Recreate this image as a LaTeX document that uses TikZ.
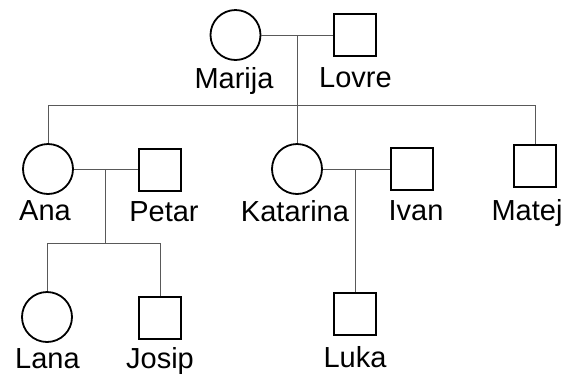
\documentclass[tikz,border=0pt]{standalone}
\usepackage{fontspec}
\setmainfont{Liberation Sans}
\begin{document}
\begin{tikzpicture}[x=1pt,y=-1pt,
  female/.style={draw,circle,line width=1.8pt,minimum size=50pt,inner sep=0pt},
  male/.style={draw,rectangle,line width=1.8pt,minimum size=42pt,inner sep=0pt},
  lbl/.style={anchor=base,inner sep=0pt,font=\fontsize{29}{34}\selectfont},
  link/.style={line width=0.9pt,draw=black!65}]
\useasboundingbox (0,0) rectangle (576,376);
% row 1
\node[female] (marija) at (235.5,35) {};
\node[male] (lovre) at (355,35) {};
% row 2
\node[female] (ana) at (48,169) {};
\node[male] (petar) at (160,170) {};
\node[female] (katarina) at (297,169) {};
\node[male] (ivan) at (412,169) {};
\node[male] (matej) at (535,166) {};
% row 3
\node[female] (lana) at (47,317) {};
\node[male] (josip) at (160,318) {};
\node[male] (luka) at (355,314) {};
% labels
\node[lbl] (tmarija) at (234,88) {Marija};
\node[lbl] (tlovre) at (355.5,87) {Lovre};
\node[lbl] (tana) at (45,220) {Ana};
\node[lbl] (tpetar) at (164,221) {Petar};
\node[lbl] (tkatarina) at (295,221) {Katarina};
\node[lbl] (tivan) at (416,220) {Ivan};
\node[lbl] (tmatej) at (527,220) {Matej};
\node[lbl] (tlana) at (47.5,368) {Lana};
\node[lbl] (tjosip) at (160,368) {Josip};
\node[lbl] (tluka) at (355,367) {Luka};
% junctions
\coordinate (m1) at (297,35);
\coordinate (s1) at (297,105);
\coordinate (m2) at (105,169);
\coordinate (s2) at (105,243);
\coordinate (m3) at (355,169);
% connectors
\draw[link] (marija.east) -- (lovre.west);
\draw[link] (m1) -- (s1);
\draw[link] (ana.north) -- (ana.north |- s1) -- (matej.north |- s1) -- (matej.north);
\draw[link] (katarina.north) -- (katarina.north |- s1);
\draw[link] (ana.east) -- (ana.east -| petar.west);
\draw[link] (m2) -- (s2);
\draw[link] (lana.north) -- (lana.north |- s2) -- (josip.north |- s2) -- (josip.north);
\draw[link] (katarina.east) -- (katarina.east -| ivan.west);
\draw[link] (m3) -- (luka.north);
\end{tikzpicture}
\end{document}
